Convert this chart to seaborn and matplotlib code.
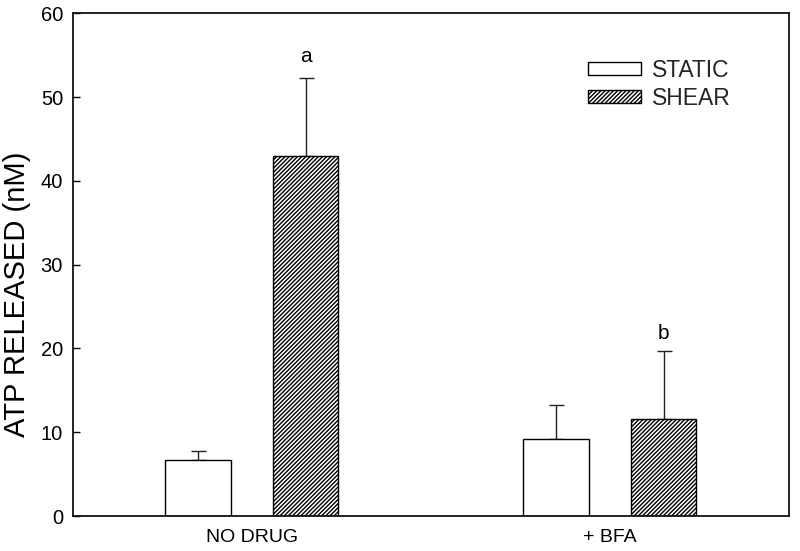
import matplotlib
matplotlib.use("Agg")
import matplotlib.pyplot as plt
import seaborn as sns
import pandas as pd
from matplotlib.patches import Patch

# ---- data ----
groups = ["NO DRUG", "+ BFA"]
conditions = ["STATIC", "SHEAR"]
static_mean = [6.7, 9.2]
static_err = [1.1, 4.1]
shear_mean = [43.0, 11.6]
shear_err = [9.3, 8.1]
letters = ["a", "b"]
letter_y = [54.8, 21.8]

sns.set_theme(style="white")
plt.rcParams["font.family"] = ["Liberation Sans", "DejaVu Sans"]
plt.rcParams["hatch.linewidth"] = 1.0
plt.rcParams["hatch.color"] = "black"

df = pd.DataFrame({
    "group": groups * 2,
    "condition": [conditions[0]] * 2 + [conditions[1]] * 2,
    "value": static_mean + shear_mean,
})
errs = static_err + shear_err

fig = plt.figure(figsize=(8.0, 5.51), dpi=100)
ax = fig.add_axes([0.091, 0.0635, 0.895, 0.9125])

sns.barplot(data=df, x="group", y="value", hue="condition", order=groups,
            hue_order=conditions, palette=["white", "white"], width=0.6,
            gap=0.387, edgecolor="black", linewidth=1.0, errorbar=None,
            legend=False, ax=ax)

patches = ax.patches[:4]
for i, p in enumerate(patches):
    if i >= 2:
        p.set_hatch("////////")
    p.set_zorder(2)

xs = [p.get_x() + p.get_width() / 2 for p in patches]
tops = [p.get_height() for p in patches]
ax.errorbar(xs, tops, yerr=[[0] * 4, errs], fmt="none", ecolor="#222222",
            elinewidth=1.0, capsize=5.4, capthick=1.0, zorder=1)

# significance letters above shear bars
for j in range(2):
    ax.text(xs[2 + j], letter_y[j], letters[j], ha="center", va="center",
            fontsize=15, color="black")

ax.set_ylim(0, 60)
ax.set_xlim(-0.5, 1.5)
ax.set_yticks(range(0, 61, 10))
ax.set_xlabel("")
ax.set_ylabel("ATP RELEASED (nM)", fontsize=21, color="black")
ax.yaxis.set_label_coords(-0.058, 0.44)
ax.tick_params(axis="y", direction="in", length=5, width=1, labelsize=14.5,
               left=True, pad=7, colors="black")
ax.tick_params(axis="x", length=0, labelsize=14, pad=9, colors="black")
for s in ax.spines.values():
    s.set_visible(True)
    s.set_color("#111111")
    s.set_linewidth(1.3)

handles = [Patch(facecolor="white", edgecolor="black", linewidth=1.0, label="STATIC"),
           Patch(facecolor="white", edgecolor="black", linewidth=1.0, hatch="////////",
                 label="SHEAR")]
ax.legend(handles=handles, loc="upper right", bbox_to_anchor=(0.932, 0.928),
          frameon=False, fontsize=16.5, handlelength=2.3, handleheight=0.55,
          handletextpad=0.5, labelspacing=0.22, borderaxespad=0)

fig.savefig("out.png", dpi=100)
